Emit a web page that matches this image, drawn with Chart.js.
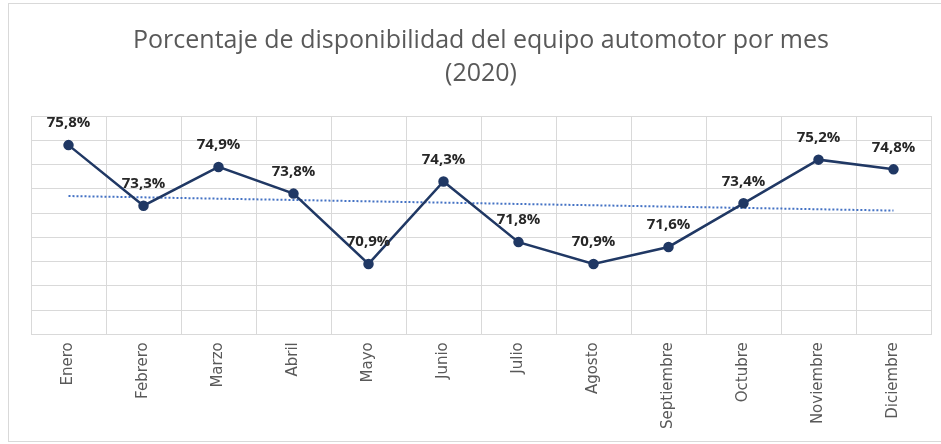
<!DOCTYPE html>
<html>
<head>
<meta charset="utf-8">
<script src="https://cdn.jsdelivr.net/npm/chart.js@4/dist/chart.umd.min.js"></script>
<style>
  html, body { margin: 0; padding: 0; background: #fff; }
  #wrap { position: relative; width: 941px; height: 444px; overflow: hidden; }
  #marco { position: absolute; left: 8px; top: 3px; width: 940px; height: 437px;
           border: 1px solid #d9d9d9; pointer-events: none; }
</style>
</head>
<body>
<div id="wrap">
  <canvas id="chart" width="941" height="444"></canvas>
  <div id="marco"></div>
</div>
<script>
var meses = ["Enero", "Febrero", "Marzo", "Abril", "Mayo", "Junio", "Julio",
  "Agosto", "Septiembre", "Octubre", "Noviembre", "Diciembre"];
var disponibilidad = [75.8, 73.3, 74.9, 73.8, 70.9, 74.3, 71.8, 70.9, 71.6, 73.4, 75.2, 74.8];
// linea de tendencia (solo extremos)
var tendencia = [73.7, null, null, null, null, null, null, null, null, null, null, 73.1];
var titulo = ["Porcentaje de disponibilidad del equipo automotor por mes", "(2020)"];

// etiquetas de datos encima de cada punto
var etiquetas = {
  id: "etiquetas",
  afterDatasetsDraw: function (chart) {
    var ctx = chart.ctx;
    var meta = chart.getDatasetMeta(0);
    ctx.save();
    ctx.font = "bold 15px 'Open Sans'";
    ctx.fillStyle = "#262626";
    ctx.textAlign = "center";
    ctx.textBaseline = "middle";
    meta.data.forEach(function (p, i) {
      var txt = disponibilidad[i].toFixed(1).replace(".", ",") + "%";
      ctx.fillText(txt, p.x, p.y - 22);
    });
    ctx.restore();
  }
};

var ctx = document.getElementById("chart").getContext("2d");
var chart = new Chart(ctx, {
  type: "line",
  data: {
    labels: meses,
    datasets: [
      {
        label: "Disponibilidad",
        data: disponibilidad,
        borderColor: "#203864",
        backgroundColor: "#203864",
        borderWidth: 2.5,
        pointRadius: 4,
        pointBackgroundColor: "#203864",
        tension: 0,
        order: 1
      },
      {
        label: "Tendencia",
        data: tendencia,
        borderColor: "#4472c4",
        borderWidth: 2,
        borderDash: [2, 2],
        pointRadius: 0,
        spanGaps: true,
        order: 2
      }
    ]
  },
  options: {
    responsive: false,
    animation: false,
    layout: { padding: { left: 31, right: 10, top: 8, bottom: 7 } },
    plugins: {
      legend: { display: false },
      tooltip: { enabled: false },
      title: {
        display: true,
        text: titulo,
        color: "#595959",
        font: { family: "'Open Sans'", size: 25, weight: "normal", lineHeight: 1.32 },
        padding: { top: 16, bottom: 26 }
      }
    },
    scales: {
      x: {
        offset: true,
        grid: { display: true, color: "#d9d9d9", offset: true, drawTicks: false },
        border: { display: true, color: "#d9d9d9" },
        ticks: {
          minRotation: 90, maxRotation: 90, padding: 8,
          color: "#595959",
          font: { family: "'DejaVu Sans'", size: 15 }
        }
      },
      y: {
        min: 68,
        max: 77,
        grid: { color: "#d9d9d9", drawTicks: false },
        border: { display: true, color: "#d9d9d9" },
        ticks: { display: false, stepSize: 1 }
      }
    }
  },
  plugins: [etiquetas]
});
</script>
</body>
</html>
